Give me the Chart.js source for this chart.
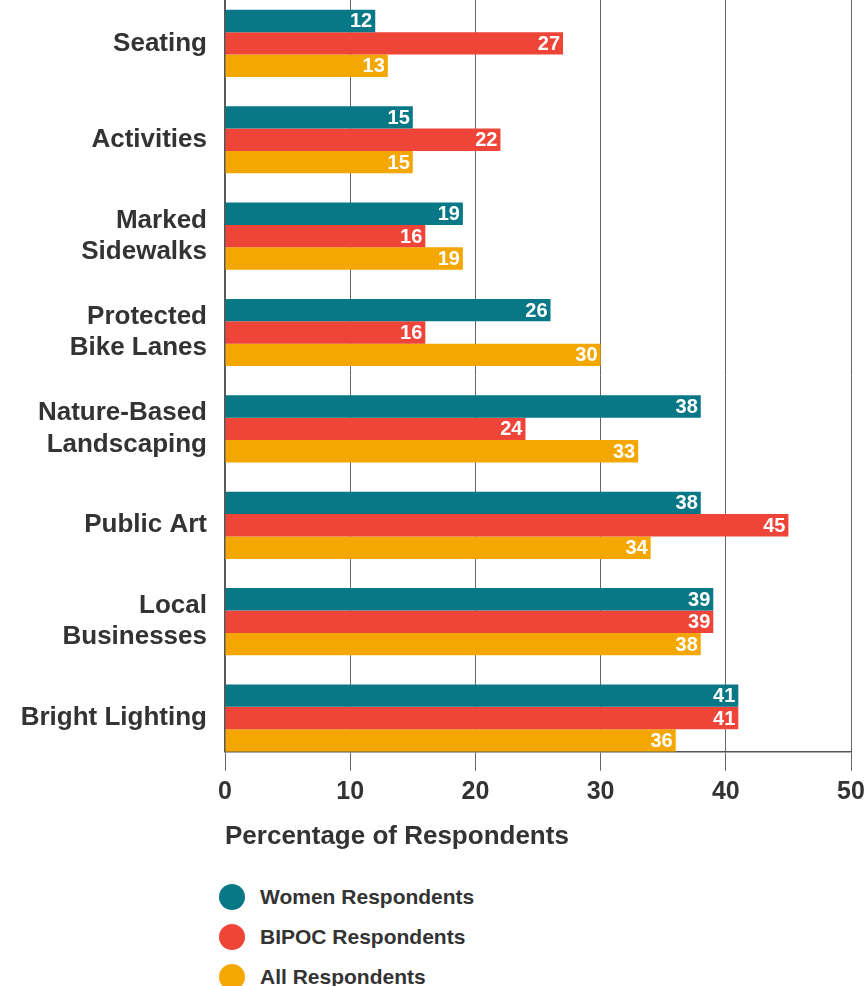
<!DOCTYPE html>
<html>
<head>
<meta charset="utf-8">
<script src="https://cdn.jsdelivr.net/npm/chart.js@4.4.1/dist/chart.umd.min.js"></script>
<style>
  html, body { margin: 0; padding: 0; background: #fff; }
  #wrap { position: relative; width: 867px; height: 986px; overflow: hidden; }
  #chart-box { position: absolute; left: 0; top: 0; width: 867px; height: 852px; }
  .legend { position: absolute; left: 219px; top: 877px; font: bold 21px "Liberation Sans", Arial, sans-serif; color: #333; }
  .legend__item { display: flex; align-items: center; height: 40px; }
  .legend__dot { width: 26px; height: 26px; border-radius: 50%; margin-right: 15px; }
</style>
</head>
<body>
<div id="wrap">
  <div id="chart-box"><canvas id="amenities-chart"></canvas></div>
  <div class="legend" id="legend"></div>
</div>
<script>
// categories, top to bottom
const categories = [
  ["Seating"],
  ["Activities"],
  ["Marked", "Sidewalks"],
  ["Protected", "Bike Lanes"],
  ["Nature-Based", "Landscaping"],
  ["Public Art"],
  ["Local", "Businesses"],
  ["Bright Lighting"],
];

// percentage of respondents per group
const womenValues = [12, 15, 19, 26, 38, 38, 39, 41];
const bipocValues = [27, 22, 16, 16, 24, 45, 39, 41];
const allValues = [13, 15, 19, 30, 33, 34, 38, 36];

const seriesNames = ["Women Respondents", "BIPOC Respondents", "All Respondents"];
const seriesColors = ["#087887", "#EF4539", "#F4A700"];

const xTicks = [0, 10, 20, 30, 40, 50];

const textColor = "#333333";
const fontFamily = '"Liberation Sans", Arial, sans-serif';

// y is a linear index axis so the last bar can sit right on the x axis
const toPoints = (values) => values.map((v, i) => ({ x: v, y: i }));

const datasets = [womenValues, bipocValues, allValues].map((vals, k) => ({
  label: seriesNames[k],
  data: toPoints(vals),
  backgroundColor: seriesColors[k],
  borderWidth: 0,
  categoryPercentage: 0.697,
  barPercentage: 1,
}));

// white value labels at the end of each bar
const barValues = {
  id: "barValues",
  afterDatasetsDraw(chart) {
    const ctx = chart.ctx;
    ctx.save();
    ctx.font = "bold 20px " + fontFamily;
    ctx.fillStyle = "#ffffff";
    ctx.textAlign = "right";
    ctx.textBaseline = "middle";
    chart.data.datasets.forEach((ds, i) => {
      chart.getDatasetMeta(i).data.forEach((bar, j) => {
        ctx.fillText(ds.data[j].x, bar.x - 3, bar.y + 1);
      });
    });
    ctx.restore();
  },
};

new Chart(document.getElementById("amenities-chart"), {
  type: "bar",
  data: { datasets },
  options: {
    indexAxis: "y",
    responsive: true,
    maintainAspectRatio: false,
    animation: false,
    layout: { padding: 0 },
    plugins: {
      legend: { display: false },
      tooltip: { enabled: false },
    },
    scales: {
      y: {
        type: "linear",
        reverse: true,
        offset: false,
        min: -0.45,
        max: 7.35,
        afterBuildTicks: (scale) => {
          scale.ticks = categories.map((c, i) => ({ value: i }));
        },
        afterFit: (scale) => {
          scale.width = 225;
          scale.paddingTop = 0;
          scale.paddingBottom = 0;
        },
        grid: { display: false, drawTicks: false, offset: false },
        border: { display: true, color: "#555555", width: 1.5 },
        ticks: {
          autoSkip: false,
          padding: 18,
          color: textColor,
          font: { family: fontFamily, size: 26, weight: "bold", lineHeight: 1.2 },
          callback: (value) => categories[value],
        },
      },
      x: {
        type: "linear",
        min: 0,
        max: 50,
        afterBuildTicks: (scale) => {
          scale.ticks = xTicks.map((v) => ({ value: v }));
        },
        afterFit: (scale) => {
          scale.paddingRight = 16;
        },
        grid: { color: "#666666", lineWidth: 1, drawTicks: true, tickLength: 19 },
        border: { display: true, color: "#555555", width: 1.5 },
        ticks: {
          padding: 6,
          color: textColor,
          font: { family: fontFamily, size: 25, weight: "bold" },
        },
        title: {
          display: true,
          text: "Percentage of Respondents",
          align: "start",
          color: textColor,
          padding: { top: 8, bottom: 0 },
          font: { family: fontFamily, size: 26, weight: "bold" },
        },
      },
    },
  },
  plugins: [barValues],
});

// legend list under the chart
const legend = document.getElementById("legend");
seriesNames.forEach((name, k) => {
  const item = document.createElement("div");
  item.className = "legend__item";
  const dot = document.createElement("span");
  dot.className = "legend__dot";
  dot.style.background = seriesColors[k];
  item.appendChild(dot);
  item.appendChild(document.createTextNode(name));
  legend.appendChild(item);
});
</script>
</body>
</html>
